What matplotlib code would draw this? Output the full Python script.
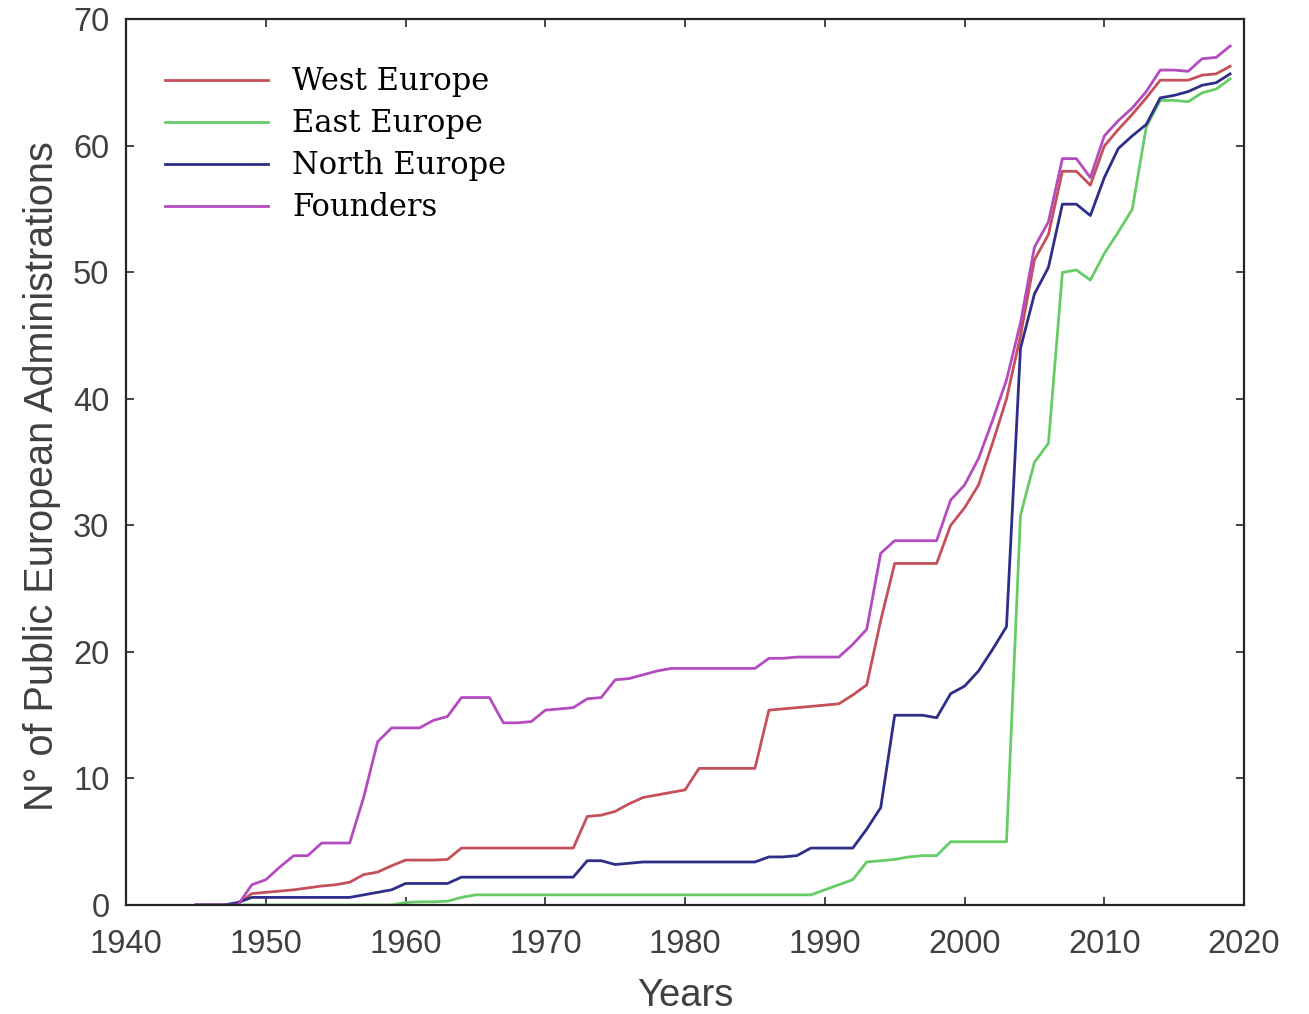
import matplotlib.pyplot as plt
import numpy as np

years = np.arange(1945, 2020)

west = [0, 0, 0, 0.1, 0.9, 1.0, 1.1, 1.2, 1.35, 1.5,
        1.6, 1.8, 2.4, 2.6, 3.1, 3.55, 3.55, 3.55, 3.6, 4.5,
        4.5, 4.5, 4.5, 4.5, 4.5, 4.5, 4.5, 4.5, 7.0, 7.1,
        7.4, 8.0, 8.5, 8.7, 8.9, 9.1, 10.8, 10.8, 10.8, 10.8,
        10.8, 15.4, 15.5, 15.6, 15.7, 15.8, 15.9, 16.6, 17.4, 22.5,
        27.0, 27.0, 27.0, 27.0, 30.0, 31.4, 33.2, 36.5, 40.0, 45.0,
        51.0, 53.0, 58.0, 58.0, 56.9, 60.0, 61.3, 62.5, 63.8, 65.2,
        65.2, 65.2, 65.6, 65.7, 66.3]

east = [0, 0, 0, 0, 0, 0, 0, 0, 0, 0,
        0, 0, 0, 0, 0, 0.2, 0.25, 0.25, 0.3, 0.6,
        0.8, 0.8, 0.8, 0.8, 0.8, 0.8, 0.8, 0.8, 0.8, 0.8,
        0.8, 0.8, 0.8, 0.8, 0.8, 0.8, 0.8, 0.8, 0.8, 0.8,
        0.8, 0.8, 0.8, 0.8, 0.8, 1.2, 1.6, 2.0, 3.4, 3.5,
        3.6, 3.8, 3.9, 3.9, 5.0, 5.0, 5.0, 5.0, 5.0, 30.8,
        35.0, 36.5, 50.0, 50.2, 49.4, 51.5, 53.2, 55.0, 61.5, 63.6,
        63.6, 63.5, 64.2, 64.5, 65.3]

north = [0, 0, 0, 0.2, 0.6, 0.6, 0.6, 0.6, 0.6, 0.6,
         0.6, 0.6, 0.8, 1.0, 1.2, 1.7, 1.7, 1.7, 1.7, 2.2,
         2.2, 2.2, 2.2, 2.2, 2.2, 2.2, 2.2, 2.2, 3.5, 3.5,
         3.2, 3.3, 3.4, 3.4, 3.4, 3.4, 3.4, 3.4, 3.4, 3.4,
         3.4, 3.8, 3.8, 3.9, 4.5, 4.5, 4.5, 4.5, 6.0, 7.7,
         15.0, 15.0, 15.0, 14.8, 16.7, 17.3, 18.5, 20.2, 22.0, 44.0,
         48.3, 50.4, 55.4, 55.4, 54.5, 57.5, 59.8, 60.8, 61.7, 63.8,
         64.0, 64.3, 64.8, 65.0, 65.7]

founders = [0, 0, 0, 0, 1.6, 2.0, 3.0, 3.9, 3.9, 4.9,
            4.9, 4.9, 8.5, 12.9, 14.0, 14.0, 14.0, 14.6, 14.9, 16.4,
            16.4, 16.4, 14.4, 14.4, 14.5, 15.4, 15.5, 15.6, 16.3, 16.4,
            17.8, 17.9, 18.2, 18.5, 18.7, 18.7, 18.7, 18.7, 18.7, 18.7,
            18.7, 19.5, 19.5, 19.6, 19.6, 19.6, 19.6, 20.6, 21.8, 27.8,
            28.8, 28.8, 28.8, 28.8, 32.0, 33.2, 35.3, 38.3, 41.5, 46.0,
            52.0, 54.0, 59.0, 59.0, 57.5, 60.8, 62.0, 63.0, 64.3, 66.0,
            66.0, 65.9, 66.9, 67.0, 67.9]

labels = ['West Europe', 'East Europe', 'North Europe', 'Founders']
colors = ['#c4505a', '#66cc66', '#2e2e88', '#b44cc0']

fig = plt.figure(figsize=(13.09, 10.14), dpi=100)
ax = fig.add_axes([0.0963, 0.1075, 0.8541, 0.8733])

for vals, lab, c in zip([west, east, north, founders], labels, colors):
    ax.plot(years, vals, color=c, lw=2.0, label=lab)

ax.set_xlim(1940, 2020)
ax.set_ylim(0, 70)
ax.set_xticks(np.arange(1940, 2021, 10))
ax.set_yticks(np.arange(0, 71, 10))

grey = '#404040'
ax.tick_params(direction='in', length=6, width=1.2, colors='#262626',
               labelcolor=grey, labelsize=23.5, top=True, right=True)
ax.tick_params(axis='x', pad=17)
ax.tick_params(axis='y', pad=12)
for side in ax.spines.values():
    side.set_color('#262626')
    side.set_linewidth(1.6)
for t in ax.get_xticklabels() + ax.get_yticklabels():
    t.set_family('Liberation Sans')

ax.set_xlabel('Years', fontsize=27.5, color=grey, family='Liberation Sans', labelpad=13)
ax.set_ylabel('N° of Public European Administrations', fontsize=28.5, color=grey,
              family='Liberation Sans')
ax.yaxis.set_label_coords(-0.058, 0.484)

ax.legend(loc='upper left', bbox_to_anchor=(0.035, 0.947), frameon=False,
          prop={'family': 'DejaVu Serif', 'size': 22}, handlelength=3.35,
          handletextpad=0.8, labelspacing=0.36, borderpad=0, borderaxespad=0)

fig.savefig('out.png', dpi=100)
